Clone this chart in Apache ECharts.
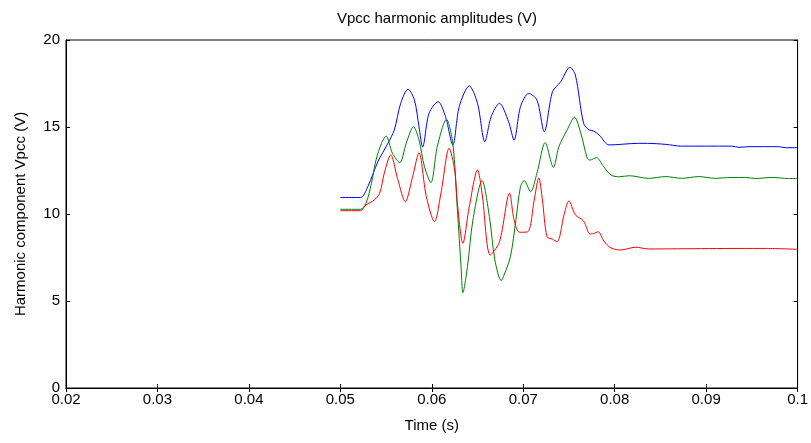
<!DOCTYPE html>
<html>
<head>
<meta charset="utf-8">
<script src="https://cdn.jsdelivr.net/npm/echarts@6/dist/echarts.min.js"></script>
<style>html,body{margin:0;padding:0;background:#fff}#c{width:811px;height:443px}</style>
</head>
<body>
<div id="c"></div>
<script>
var titleText = 'Vpcc harmonic amplitudes (V)';
var xName = 'Time (s)';
var yName = 'Harmonic component Vpcc (V)';
var xTicks = [0.02, 0.03, 0.04, 0.05, 0.06, 0.07, 0.08, 0.09, 0.1];
var yTicks = [0, 5, 10, 15, 20];

var blueSeries = [[0.0500,10.95],[0.0522,10.95],[0.0530,11.57],[0.0541,13.0],[0.0552,14.06],[0.0559,14.83],[0.0566,16.36],[0.0574,17.17],[0.0581,16.55],[0.0586,15.02],[0.0590,13.85],[0.0597,15.79],[0.0607,16.45],[0.0615,15.6],[0.0623,13.97],[0.0630,16.17],[0.0641,17.36],[0.0650,16.36],[0.0658,14.16],[0.0665,15.6],[0.0674,16.36],[0.0684,15.3],[0.0690,14.25],[0.0697,16.17],[0.0706,16.93],[0.0715,16.55],[0.0723,14.73],[0.0732,17.03],[0.0741,17.6],[0.0751,18.43],[0.0757,17.99],[0.0766,15.21],[0.0772,14.83],[0.0777,14.77],[0.0783,14.54],[0.0794,13.97],[0.0826,14.06],[0.0836,14.06],[0.0856,14.0],[0.0873,13.9],[0.0928,13.9],[0.0936,13.83],[0.0947,13.87],[0.0979,13.87],[0.0987,13.81],[0.1,13.81]];

var greenSeries = [[0.0500,10.27],[0.0522,10.27],[0.0528,10.61],[0.0534,11.76],[0.0539,13.1],[0.0545,14.06],[0.0550,14.48],[0.0557,13.49],[0.0565,12.95],[0.0572,14.06],[0.0580,15.02],[0.0586,14.25],[0.0592,12.72],[0.0599,11.8],[0.0606,13.87],[0.0616,15.44],[0.0623,14.06],[0.0628,10.23],[0.0632,6.97],[0.0634,5.48],[0.0639,6.97],[0.0645,9.66],[0.0655,11.92],[0.0663,9.85],[0.0669,7.36],[0.0676,6.17],[0.0679,6.49],[0.0686,7.55],[0.0692,9.66],[0.0697,11.57],[0.0701,11.92],[0.0708,11.28],[0.0715,12.34],[0.0724,14.1],[0.0733,12.68],[0.0739,13.87],[0.0748,14.83],[0.0756,15.56],[0.0763,14.64],[0.0770,13.2],[0.0773,13.1],[0.0780,13.24],[0.0788,12.72],[0.0796,12.24],[0.0805,12.14],[0.0816,12.2],[0.0837,12.05],[0.0856,12.15],[0.0873,12.05],[0.0892,12.15],[0.0910,12.05],[0.0928,12.1],[0.0943,12.1],[0.0954,12.04],[0.0972,12.1],[0.0990,12.04],[0.1,12.04]];

var redSeries = [[0.0500,10.19],[0.0522,10.19],[0.0528,10.52],[0.0537,10.8],[0.0543,11.19],[0.0548,12.34],[0.0555,13.39],[0.0563,11.95],[0.0571,10.71],[0.0579,12.14],[0.0586,13.52],[0.0594,11.0],[0.0603,9.56],[0.0610,11.19],[0.0619,13.78],[0.0625,12.53],[0.0628,10.61],[0.0634,8.31],[0.0641,10.42],[0.0650,12.53],[0.0655,11.19],[0.0664,7.64],[0.0674,8.4],[0.0685,11.19],[0.0690,9.66],[0.0696,8.95],[0.0705,8.98],[0.0712,10.8],[0.0717,12.08],[0.0721,10.8],[0.0726,8.7],[0.0732,8.55],[0.0737,8.41],[0.0745,10.04],[0.0750,10.75],[0.0757,9.95],[0.0766,9.6],[0.0773,8.85],[0.0777,8.88],[0.0782,8.98],[0.0788,8.45],[0.0796,8.05],[0.0806,7.93],[0.0823,8.09],[0.0837,7.99],[0.0869,8.0],[0.0936,8.02],[0.0966,8.02],[0.1,7.97]];

var font = 'Liberation Sans, Arial, sans-serif';
var chart = echarts.init(document.getElementById('c'), null, {renderer: 'canvas'});
function mkSeries(data, color) {
  return {type: 'line', data: data, showSymbol: false, symbol: 'none', smooth: 0.3,
    lineStyle: {color: color, width: 1}, itemStyle: {color: color}, animation: false, z: 3};
}
chart.setOption({
  animation: false,
  title: {text: titleText, left: 432, top: 6, textAlign: 'center',
    textStyle: {fontFamily: font, fontSize: 15, fontWeight: 'normal', color: '#000'}},
  grid: {left: 66, right: 12, top: 40, bottom: 55, show: true, borderColor: '#000', borderWidth: 1, backgroundColor: '#fff'},
  xAxis: [{
    type: 'value', min: xTicks[0], max: xTicks[xTicks.length - 1], interval: 0.01,
    name: xName, nameLocation: 'middle', nameGap: 30,
    nameTextStyle: {fontFamily: font, fontSize: 15, color: '#000'},
    axisLine: {show: true, lineStyle: {color: '#000'}},
    axisTick: {show: true, inside: true, length: 4, lineStyle: {color: '#000'}},
    axisLabel: {fontFamily: font, fontSize: 15, color: '#000', margin: 4, showMaxLabel: true, showMinLabel: true},
    splitLine: {show: false}
  }, {
    type: 'value', position: 'top', min: xTicks[0], max: xTicks[xTicks.length - 1], interval: 0.01,
    axisLine: {show: true, lineStyle: {color: '#000'}},
    axisTick: {show: true, inside: true, length: 4, lineStyle: {color: '#000'}},
    axisLabel: {show: false}, splitLine: {show: false}
  }],
  yAxis: [{
    type: 'value', min: yTicks[0], max: yTicks[yTicks.length - 1], interval: 5,
    name: yName, nameLocation: 'middle', nameGap: 38, nameRotate: 90,
    nameTextStyle: {fontFamily: font, fontSize: 15, color: '#000'},
    axisLine: {show: true, lineStyle: {color: '#000'}},
    axisTick: {show: true, inside: true, length: 4, lineStyle: {color: '#000'}},
    axisLabel: {fontFamily: font, fontSize: 15, color: '#000', margin: 6},
    splitLine: {show: false}
  }, {
    type: 'value', position: 'right', min: yTicks[0], max: yTicks[yTicks.length - 1], interval: 5,
    axisLine: {show: true, lineStyle: {color: '#000'}},
    axisTick: {show: true, inside: true, length: 4, lineStyle: {color: '#000'}},
    axisLabel: {show: false}, splitLine: {show: false}
  }],
  series: [
    mkSeries(blueSeries, '#0000ff'),
    mkSeries(greenSeries, '#008000'),
    mkSeries(redSeries, '#ff0000')
  ]
});
</script>
</body>
</html>
